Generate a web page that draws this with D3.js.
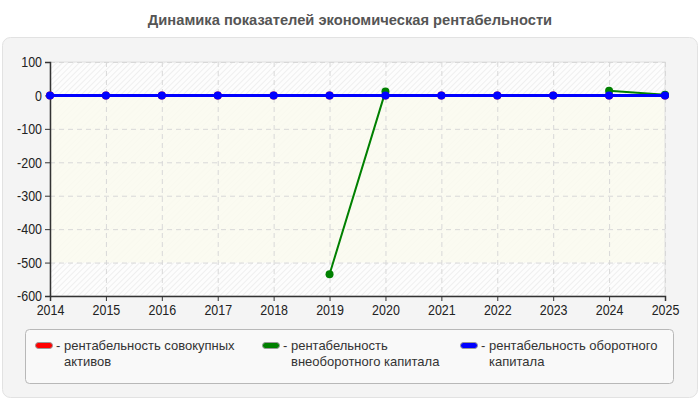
<!DOCTYPE html>
<html>
<head>
<meta charset="utf-8">
<script src="https://cdn.jsdelivr.net/npm/d3@7"></script>
<style>
  body { margin: 0; background: #fff; }
  svg text { font-family: "Liberation Sans", Arial, sans-serif; }
</style>
</head>
<body>
<svg id="chart" width="700" height="400"></svg>
<script>
// data
const years = [2014, 2015, 2016, 2017, 2018, 2019, 2020, 2021, 2022, 2023, 2024, 2025];
const totalAssets = [0, 0, 0, 0, 0, 0, 0, 0, 0, 0, 0, 0];
const fixedCapital = [null, null, null, null, null, -535, 12, null, null, null, 14, 2];
const workingCapital = [0, 0, 0, 0, 0, 0, 0, 0, 0, 0, 0, 0];
const yTicks = [100, 0, -100, -200, -300, -400, -500, -600];

const legendLines = [
    ["рентабельность совокупных", "активов"],
    ["рентабельность", "внеоборотного капитала"],
    ["рентабельность оборотного", "капитала"]
];
const colors = ["#ff0000", "#008000", "#0000ff"];

const svg = d3.select("#chart");
const defs = svg.append("defs");

// hatch pattern for the plot bands
const hatch = defs.append("pattern")
    .attr("id", "hatch")
    .attr("width", 4).attr("height", 4)
    .attr("patternUnits", "userSpaceOnUse")
    .attr("patternTransform", "rotate(45)");
hatch.append("rect").attr("width", 4).attr("height", 4).attr("fill", "#fdfdfd");
hatch.append("line").attr("x1", 0).attr("y1", 0).attr("x2", 0).attr("y2", 4)
    .attr("stroke", "#ebebeb").attr("stroke-width", 1.5);

// title
svg.append("text")
    .attr("x", 350).attr("y", 25)
    .attr("text-anchor", "middle")
    .attr("font-size", 14.7).attr("font-weight", "bold")
    .attr("fill", "#555")
    .text("Динамика показателей экономическая рентабельности");

// outer panel
svg.append("rect")
    .attr("x", 2.5).attr("y", 37.5).attr("width", 695).attr("height", 360)
    .attr("rx", 8)
    .attr("fill", "#f4f4f4").attr("stroke", "#e2e2e2");

const x = d3.scaleLinear().domain([2014, 2025]).range([50, 665]);
const y = d3.scaleLinear().domain([-600, 100]).range([296, 62]);

// plot bands
svg.append("rect")
    .attr("x", x(2014)).attr("y", y(100))
    .attr("width", x(2025) - x(2014)).attr("height", y(-600) - y(100))
    .attr("fill", "url(#hatch)");
svg.append("rect")
    .attr("x", x(2014)).attr("y", y(0))
    .attr("width", x(2025) - x(2014)).attr("height", y(-500) - y(0))
    .attr("fill", "#fafaee").attr("opacity", 0.85);
svg.append("rect")
    .attr("x", x(2014)).attr("y", y(100))
    .attr("width", x(2025) - x(2014)).attr("height", y(-600) - y(100))
    .attr("fill", "none").attr("stroke", "#e0e0e0");

// grid
const grid = svg.append("g").attr("stroke", "#d8d8d8").attr("stroke-dasharray", "5,4");
grid.selectAll(".hg").data(yTicks).join("line")
    .attr("x1", x(2014)).attr("x2", x(2025))
    .attr("y1", d => y(d) + 0.5).attr("y2", d => y(d) + 0.5);
grid.selectAll(".vg").data(years).join("line")
    .attr("x1", d => x(d) + 0.5).attr("x2", d => x(d) + 0.5)
    .attr("y1", y(100)).attr("y2", y(-600));

// axes
const xAxis = svg.append("g")
    .attr("transform", `translate(0,${y(-600)})`)
    .call(d3.axisBottom(x).tickValues(years).tickFormat(d3.format("d")).tickSizeOuter(0).tickSize(5));
const yAxis = svg.append("g")
    .attr("transform", `translate(${x(2014)},0)`)
    .call(d3.axisLeft(y).tickValues(yTicks).tickFormat(d => String(d)).tickSizeOuter(0).tickSize(5));
[xAxis, yAxis].forEach(a => {
    a.select(".domain").attr("stroke", "#333").attr("stroke-width", 1.5);
    a.selectAll(".tick line").attr("stroke", "#333");
    // narrow look: squeeze regular glyphs horizontally
    a.selectAll(".tick text").attr("font-size", 15).attr("fill", "#222")
        .each(function () {
            const w = this.getComputedTextLength();
            d3.select(this).attr("textLength", w * 0.83).attr("lengthAdjust", "spacingAndGlyphs");
        });
});

// series
const allSeries = [totalAssets, fixedCapital, workingCapital];
const line = d3.line()
    .defined(d => d.v !== null)
    .x(d => x(d.year)).y(d => y(d.v));
const widths = [3, 2, 3];
allSeries.forEach((vals, i) => {
    const pts = years.map((yr, j) => ({ year: yr, v: vals[j] }));
    svg.append("path")
        .datum(pts)
        .attr("d", line)
        .attr("fill", "none")
        .attr("stroke", colors[i])
        .attr("stroke-width", widths[i]);
    svg.append("g").selectAll("circle")
        .data(pts.filter(d => d.v !== null))
        .join("circle")
        .attr("cx", d => x(d.year)).attr("cy", d => y(d.v))
        .attr("r", 4)
        .attr("fill", colors[i]);
});

// legend
svg.append("rect")
    .attr("x", 25.5).attr("y", 329.5).attr("width", 648).attr("height", 54)
    .attr("rx", 4)
    .attr("fill", "#f9f9f9").attr("stroke", "#b8b8b8");
const legendX = [35, 262, 460];
const legend = svg.append("g");
legendLines.forEach((lines, i) => {
    const g = legend.append("g").attr("transform", `translate(${legendX[i]},0)`);
    g.append("rect")
        .attr("x", 0.5).attr("y", 342.5).attr("width", 17).attr("height", 6)
        .attr("rx", 3)
        .attr("fill", colors[i]).attr("stroke", "#999");
    g.append("text")
        .attr("x", 21).attr("y", 350)
        .attr("font-size", 13).attr("fill", "#333")
        .text("- " + lines[0]);
    g.append("text")
        .attr("x", 29).attr("y", 366)
        .attr("font-size", 13).attr("fill", "#333")
        .text(lines[1]);
});
</script>
</body>
</html>
